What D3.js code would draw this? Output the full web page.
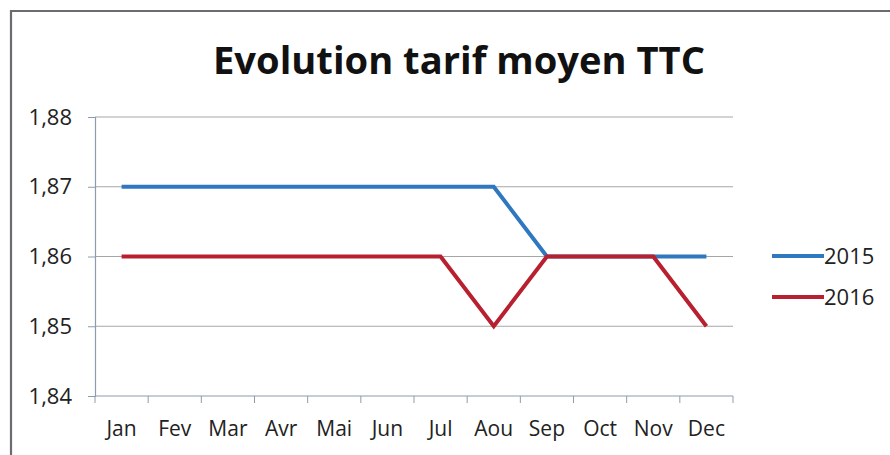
<!DOCTYPE html>
<html>
<head>
<meta charset="utf-8">
<script src="https://cdn.jsdelivr.net/npm/d3@7"></script>
<style>
  html, body { margin: 0; padding: 0; background: #fff; }
  svg { display: block; }
</style>
</head>
<body>
<div id="chart"></div>
<script>
const months = ["Jan", "Fev", "Mar", "Avr", "Mai", "Jun", "Jul", "Aou", "Sep", "Oct", "Nov", "Dec"]
const values2015 = [1.87, 1.87, 1.87, 1.87, 1.87, 1.87, 1.87, 1.87, 1.86, 1.86, 1.86, 1.86]
const values2016 = [1.86, 1.86, 1.86, 1.86, 1.86, 1.86, 1.86, 1.85, 1.86, 1.86, 1.86, 1.85]
const yTicks = [1.84, 1.85, 1.86, 1.87, 1.88]
const seriesNames = ["2015", "2016"]

const width = 890
const height = 455
const margin = { left: 95, right: 157, top: 117, bottom: 59 }
const font = "'Open Sans', sans-serif"
const colors = ["#2f78c0", "#b8202f"]

const svg = d3.select("#chart")
  .append("svg")
  .attr("width", width)
  .attr("height", height)

// outer frame (runs off the right and bottom of the photo)
svg.append("path")
  .attr("d", `M${width + 5},11 H11 V${height + 5}`)
  .attr("fill", "none")
  .attr("stroke", "#6b6b70")
  .attr("stroke-width", 2.2)

svg.append("text")
  .attr("x", 459)
  .attr("y", 74)
  .attr("text-anchor", "middle")
  .attr("textLength", 492)
  .attr("lengthAdjust", "spacingAndGlyphs")
  .style("font-family", font)
  .style("font-size", "37px")
  .style("font-weight", "bold")
  .style("fill", "#111")
  .text("Evolution tarif moyen TTC")

const x = d3.scaleBand()
  .domain(months)
  .range([margin.left, width - margin.right])

const y = d3.scaleLinear()
  .domain([1.84, 1.88])
  .range([height - margin.bottom, margin.top])

// horizontal gridlines
svg.append("g")
  .selectAll("line")
  .data(yTicks.slice(1))
  .enter()
  .append("line")
  .attr("x1", x.range()[0])
  .attr("x2", x.range()[1])
  .attr("y1", d => y(d))
  .attr("y2", d => y(d))
  .attr("stroke", "#a6a6a6")
  .attr("stroke-width", 1)

// y axis
const yAxis = svg.append("g")
  .attr("transform", `translate(${margin.left},0)`)
  .call(d3.axisLeft(y).tickValues(yTicks).tickSize(7).tickPadding(16)
    .tickFormat(d => d3.format(".2f")(d).replace(".", ",")))
yAxis.select(".domain").attr("stroke", "#8c9cb0").attr("stroke-width", 1.2)
yAxis.selectAll(".tick line").attr("stroke", "#8c9cb0")
yAxis.selectAll("text")
  .style("font-family", font)
  .style("font-size", "22px")
  .style("fill", "#222")

// x axis with ticks between categories
const xAxis = svg.append("g")
  .attr("transform", `translate(0,${y(1.84)})`)
xAxis.append("line")
  .attr("x1", x.range()[0])
  .attr("x2", x.range()[1])
  .attr("stroke", "#8c9cb0")
  .attr("stroke-width", 1.2)
xAxis.selectAll(".tk")
  .data(months.concat(["end"]))
  .enter()
  .append("line")
  .attr("class", "tk")
  .attr("x1", (d, i) => i < months.length ? x(d) : x.range()[1])
  .attr("x2", (d, i) => i < months.length ? x(d) : x.range()[1])
  .attr("y1", 0)
  .attr("y2", 7)
  .attr("stroke", "#8c9cb0")
xAxis.selectAll("text")
  .data(months)
  .enter()
  .append("text")
  .attr("x", d => x(d) + x.bandwidth() / 2)
  .attr("y", 40)
  .attr("text-anchor", "middle")
  .style("font-family", font)
  .style("font-size", "21px")
  .style("fill", "#222")
  .text(d => d)

const line = d3.line()
  .x((d, i) => x(months[i]) + x.bandwidth() / 2)
  .y(d => y(d))

const series = [values2015, values2016]

svg.append("g")
  .selectAll("path")
  .data(series)
  .enter()
  .append("path")
  .attr("d", line)
  .attr("fill", "none")
  .attr("stroke", (d, i) => colors[i])
  .attr("stroke-width", 4)
  .attr("stroke-linejoin", "miter")

// legend
const legend = svg.append("g")
  .selectAll("g")
  .data(seriesNames)
  .enter()
  .append("g")
  .attr("transform", (d, i) => `translate(772,${256 + i * 41})`)
legend.append("line")
  .attr("x1", 0)
  .attr("x2", 52)
  .attr("stroke", (d, i) => colors[i])
  .attr("stroke-width", 4)
legend.append("text")
  .attr("x", 52)
  .attr("y", 8)
  .style("font-family", font)
  .style("font-size", "22px")
  .style("fill", "#222")
  .text(d => d)
</script>
</body>
</html>
